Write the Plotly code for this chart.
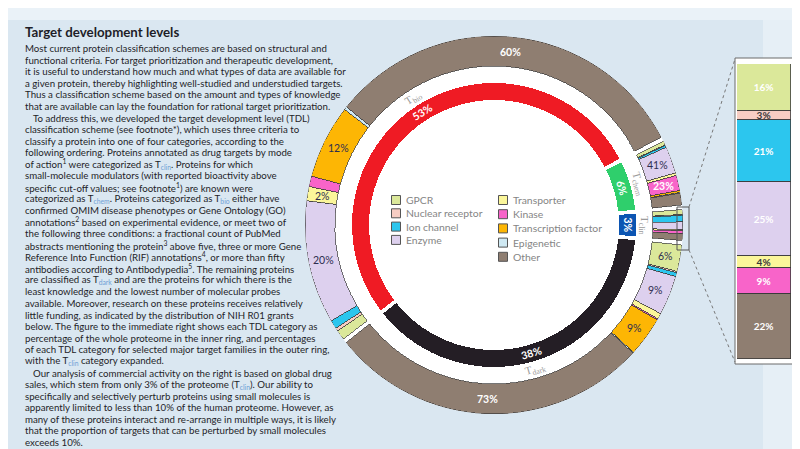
import math
import plotly.graph_objects as go

W, H = 800, 449

# ---------------- data ----------------
tdl_names = ["bio", "chem", "clin", "dark"]          # clockwise from lower-left
tdl_pct = [53, 6, 3, 38]
tdl_colors = ["#ef1b24", "#2fcf6c", "#0c55b2", "#241e25"]

families = ["GPCR", "Nuclear receptor", "Ion channel", "Enzyme", "Transporter",
            "Kinase", "Transcription factor", "Epigenetic", "Other"]
family_colors = ["#dbe89a", "#f7cdc3", "#2cc6ee", "#ddd0ee", "#fbf69a",
                 "#f864c9", "#fdb604", "#cfe9f3", "#8f7e71"]

tbio_family = [1.6, 0.5, 1.4, 20, 2.3, 1.7, 12, 0.5, 60]
tchem_family = [6, 1, 3, 41, 4, 23, 3, 1, 18]
tclin_family = [16, 3, 21, 25, 4, 9, 0, 0, 22]
tdark_family = [6, 0.3, 0.9, 9, 1.3, 0.3, 9, 0.2, 73]
family_by_tdl = [tbio_family, tchem_family, tclin_family, tdark_family]

title = "Target development levels"
sub = "<span style='color:#6f9fd6'>%s</span>"
body_lines = [
    "Most current protein classification schemes are based on structural and",
    "functional criteria. For target prioritization and therapeutic development,",
    "it is useful to understand how much and what types of data are available for",
    "a given protein, thereby highlighting well-studied and understudied targets.",
    "Thus a classification scheme based on the amount and types of knowledge",
    "that are available can lay the foundation for rational target prioritization.",
    "To address this, we developed the target development level (TDL)",
    "classification scheme (see footnote*), which uses three criteria to",
    "classify a protein into one of four categories, according to the",
    "following ordering. Proteins annotated as drug targets by mode",
    "of action<sup>1</sup> were categorized as T<sub>" + sub % "clin" + "</sub>. Proteins for which",
    "small-molecule modulators (with reported bioactivity above",
    "specific cut-off values; see footnote<sup>1</sup>) are known were",
    "categorized as T<sub>" + sub % "chem" + "</sub>. Proteins categorized as T<sub>" + sub % "bio" + "</sub> either have",
    "confirmed OMIM disease phenotypes or Gene Ontology (GO)",
    "annotations<sup>2</sup> based on experimental evidence, or meet two of",
    "the following three conditions: a fractional count of PubMed",
    "abstracts mentioning the protein<sup>3</sup> above five, three or more Gene",
    "Reference Into Function (RIF) annotations<sup>4</sup>, or more than fifty",
    "antibodies according to Antibodypedia<sup>5</sup>. The remaining proteins",
    "are classified as T<sub>" + sub % "dark" + "</sub> and are the proteins for which there is the",
    "least knowledge and the lowest number of molecular probes",
    "available. Moreover, research on these proteins receives relatively",
    "little funding, as indicated by the distribution of NIH R01 grants",
    "below. The figure to the immediate right shows each TDL category as",
    "percentage of the whole proteome in the inner ring, and percentages",
    "of each TDL category for selected major target families in the outer ring,",
    "with the T<sub>" + sub % "clin" + "</sub> category expanded.",
    "Our analysis of commercial activity on the right is based on global drug",
    "sales, which stem from only 3% of the proteome (T<sub>" + sub % "clin" + "</sub>). Our ability to",
    "specifically and selectively perturb proteins using small molecules is",
    "apparently limited to less than 10% of the human proteome. However, as",
    "many of these proteins interact and re-arrange in multiple ways, it is likely",
    "that the proportion of targets that can be perturbed by small molecules",
    "exceeds 10%.",
]
indented_lines = [6, 28]

# ---------------- geometry ----------------
CX, CY, R = 486, 217, 189
IN_BASE, IN_THICK = 125, 17
OUT_BASE, OUT_THICK = 159, 30
GAP_IN, GAP_OUT = 1.6, 1.4
DEG = 3.6


def px(x):
    return x / W


def py(y):
    return 1 - y / H


dom_x = [px(CX - R), px(CX + R)]
dom_y = [py(CY + R), py(CY - R)]

start = (tdl_pct[2] / 2 + tdl_pct[1] + tdl_pct[0]) * DEG

fig = go.Figure()

# inner ring
in_theta, in_width, tdl_bounds = [], [], []
a = start
for p in tdl_pct:
    a1 = a - p * DEG
    tdl_bounds.append((a, a1))
    in_theta.append((a + a1) / 2)
    in_width.append(p * DEG - GAP_IN)
    a = a1

fig.add_trace(go.Barpolar(
    theta=in_theta, r=[IN_THICK] * 4, base=IN_BASE, width=in_width,
    marker=dict(color=tdl_colors, line=dict(width=0)),
    hoverinfo="skip", showlegend=False))

# outer ring
seg_info = []  # (theta, span, value, family index)
seg_theta = [[] for _ in families]
seg_width = [[] for _ in families]
for (a0, a1), fam_vals in zip(tdl_bounds, family_by_tdl):
    span_total = (a0 - a1) - GAP_OUT
    total = sum(fam_vals)
    b = a0 - GAP_OUT / 2
    for j, v in enumerate(fam_vals):
        s = span_total * v / total
        seg_theta[j].append(b - s / 2)
        seg_width[j].append(s)
        seg_info.append((b - s / 2, s, v, j))
        b -= s

for j, fam in enumerate(families):
    fig.add_trace(go.Barpolar(
        theta=seg_theta[j], r=[OUT_THICK] * len(seg_theta[j]), base=OUT_BASE,
        width=seg_width[j],
        marker=dict(color=family_colors[j], line=dict(color="#3b3b3b", width=0.7)),
        hoverinfo="skip", showlegend=False, name=fam))

# overlay cartesian axis matching the polar disk (for labels)
fig.add_trace(go.Scatter(x=[], y=[], xaxis="x", yaxis="y", showlegend=False))


def pol(r, th):
    return r * math.cos(math.radians(th)), r * math.sin(math.radians(th))


def tangent_angle(th):
    return 90 - th if th > -45 else -(th + 90)


annotations = []
FONT = "Lato"

# inner labels + TDL labels
for name, p, th in zip(tdl_names, tdl_pct, in_theta):
    x, y = pol(IN_BASE + IN_THICK / 2, th)
    annotations.append(dict(x=x, y=y, xref="x", yref="y", text="<b>%d%%</b>" % p,
                            showarrow=False, textangle=tangent_angle(th),
                            font=dict(family=FONT, size=10.5, color="white")))
    x, y = pol(150, th)
    annotations.append(dict(x=x, y=y, xref="x", yref="y", text="T<sub>%s</sub>" % name,
                            showarrow=False, textangle=tangent_angle(th),
                            font=dict(family="Liberation Serif", size=11, color="#9a9a9a")))

# outer labels
for th, s, v, j in seg_info:
    if s >= 4:
        x, y = pol(OUT_BASE + OUT_THICK / 2, th)
        white = families[j] in ("Kinase", "Other")
        txt = "%d%%" % round(v)
        annotations.append(dict(x=x, y=y, xref="x", yref="y",
                                text=("<b>%s</b>" % txt) if white else txt,
                                showarrow=False,
                                font=dict(family=FONT, size=10.5,
                                          color="white" if white else "#2d2d50")))

# expanded T_clin stacked bar
for j, fam in enumerate(families):
    v = tclin_family[j]
    dark = fam in ("Nuclear receptor", "Transporter")
    fig.add_trace(go.Bar(
        x=["clin"], y=[v], xaxis="x2", yaxis="y2",
        marker=dict(color=family_colors[j], line=dict(color="#3b3b3b", width=0.8)),
        text=["<b>%d%%</b>" % v] if v > 0 else [""],
        textposition="inside", insidetextanchor="middle", constraintext="none",
        textfont=dict(family=FONT, size=10, color="#3a3a3a" if dark else "white"),
        hoverinfo="skip", showlegend=False))

# legend (manual two-column)
legend_shapes = []
leg_cols = [(388, 192, 13.3, families[:4], family_colors[:4]),
            (495, 192, 14.2, families[4:], family_colors[4:])]
for sx, sy, dy, names, cols in leg_cols:
    for k, (nm, c) in enumerate(zip(names, cols)):
        yy = sy + k * dy
        legend_shapes.append(dict(type="rect", xref="paper", yref="paper",
                                  x0=px(sx - 4.5), x1=px(sx + 4.5), y0=py(yy + 4.5), y1=py(yy - 4.5),
                                  fillcolor=c, line=dict(color="#555555", width=1), layer="above"))
        annotations.append(dict(x=px(sx + 8), y=py(yy), xref="paper", yref="paper",
                                xanchor="left", yanchor="middle", text=nm, showarrow=False,
                                font=dict(family=FONT, size=10.4, color="#858585")))

# left text
annotations.append(dict(x=px(15), y=py(24), xref="paper", yref="paper", xanchor="left",
                        yanchor="middle", text="<b>%s</b>" % title, showarrow=False,
                        font=dict(family=FONT, size=13.3, color="#1e1e28")))
LINE0, LSTEP = 40, 11.59
for i, line in enumerate(body_lines):
    x0 = 23 if i in indented_lines else 15
    annotations.append(dict(x=px(x0), y=py(LINE0 + i * LSTEP), xref="paper", yref="paper",
                            xanchor="left", yanchor="middle", text=line, showarrow=False,
                            font=dict(family=FONT, size=9.7, color="#1e1e28")))

# background panels, box and connector lines
shapes = [
    dict(type="rect", xref="paper", yref="paper", x0=0, x1=1, y0=py(12), y1=1,
         fillcolor="#eaf2f8", line=dict(width=0), layer="below"),
    dict(type="rect", xref="paper", yref="paper", x0=px(755), x1=1, y0=0, y1=py(12),
         fillcolor="#e6eff6", line=dict(width=0), layer="below"),
    dict(type="rect", xref="paper", yref="paper", x0=px(727), x1=px(791), y0=py(356), y1=py(50),
         fillcolor="white", line=dict(color="#6b6b6b", width=1), layer="below"),
    dict(type="rect", xref="paper", yref="paper", x0=px(669), x1=px(681), y0=py(242), y1=py(199),
         fillcolor="rgba(0,0,0,0)", line=dict(color="#555555", width=1), layer="above"),
    dict(type="line", xref="paper", yref="paper", x0=px(681), y0=py(199), x1=px(727), y1=py(51),
         line=dict(color="#777777", width=1, dash="dot"), layer="above"),
    dict(type="line", xref="paper", yref="paper", x0=px(681), y0=py(242), x1=px(727), y1=py(354),
         line=dict(color="#777777", width=1, dash="dot"), layer="above"),
] + legend_shapes

fig.update_layout(
    width=W, height=H, autosize=False,
    margin=dict(l=0, r=0, t=0, b=0, pad=0),
    paper_bgcolor="#dae7f1", plot_bgcolor="rgba(0,0,0,0)",
    polar=dict(domain=dict(x=dom_x, y=dom_y), bgcolor="white",
               radialaxis=dict(visible=False, range=[0, R]),
               angularaxis=dict(visible=False, direction="counterclockwise", rotation=0)),
    xaxis=dict(domain=dom_x, range=[-R, R], visible=False, fixedrange=True),
    yaxis=dict(domain=dom_y, range=[-R, R], visible=False, fixedrange=True, anchor="x"),
    xaxis2=dict(domain=[px(729), px(783)], visible=False, fixedrange=True, anchor="y2"),
    yaxis2=dict(domain=[py(351), py(56)], range=[100, 0], visible=False, fixedrange=True,
                anchor="x2"),
    barmode="stack", bargap=0,
    uniformtext=dict(minsize=9, mode="show"),
    shapes=shapes, annotations=annotations,
    showlegend=False,
)

fig.write_html("out.html")
